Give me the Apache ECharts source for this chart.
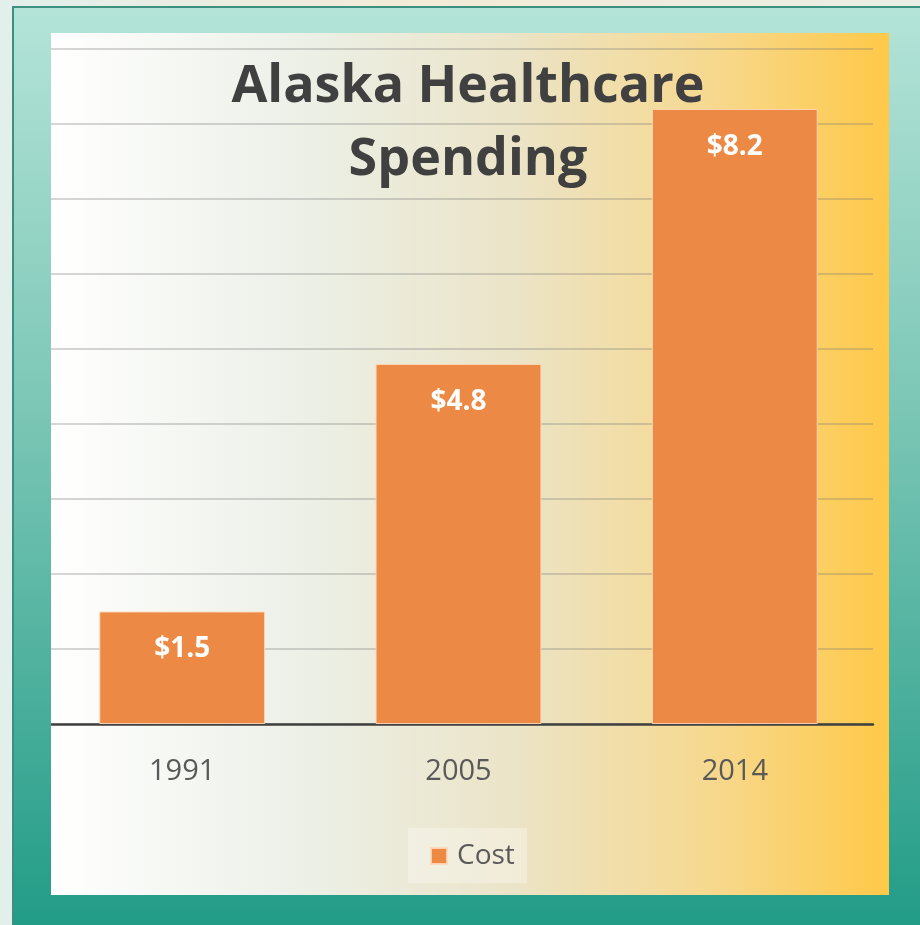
<!DOCTYPE html>
<html>
<head>
<meta charset="utf-8">
<script src="https://cdn.jsdelivr.net/npm/echarts@6/dist/echarts.min.js"></script>
<style>
html,body{margin:0;padding:0;width:920px;height:925px;overflow:hidden;}
#chart{width:920px;height:925px;}
</style>
</head>
<body>
<div id="chart"></div>
<script>
// ---- data ----
const chartTitle = 'Alaska Healthcare\nSpending';
const categories = ['1991', '2005', '2014'];
const seriesName = 'Cost';
const costValues = [1.5, 4.8, 8.2];
const yMax = 9;
const yInterval = 1;

const chart = echarts.init(document.getElementById('chart'), null, {renderer: 'canvas'});
const G = echarts.graphic;

function teal() {
  return new G.LinearGradient(0, 0, 0, 1, [
    {offset: 0, color: '#b4e4d8'},
    {offset: 0.45, color: '#79c5b4'},
    {offset: 1, color: '#209b86'}
  ]);
}
const innerGrad = new G.LinearGradient(0, 0, 1, 0, [
  {offset: 0, color: '#ffffff'},
  {offset: 0.3, color: '#ecf0e7'},
  {offset: 0.55, color: '#ebe4c8'},
  {offset: 0.78, color: '#f6d991'},
  {offset: 1, color: '#ffc948'}
]);
const topGrad = new G.LinearGradient(0, 0, 1, 0, [
  {offset: 0, color: '#e2efea'},
  {offset: 0.45, color: '#f4ebd8'},
  {offset: 1, color: '#eaeee4'}
]);

const option = {
  animation: false,
  backgroundColor: 'transparent',
  graphic: [
    {type: 'rect', z: -100, shape: {x: 0, y: 0, width: 920, height: 925}, style: {fill: '#e2efea'}},
    {type: 'rect', z: -99, shape: {x: 13, y: 0, width: 907, height: 8}, style: {fill: topGrad}},
    {type: 'rect', z: -98, shape: {x: 13, y: 7, width: 920, height: 930}, style: {fill: teal(), stroke: '#3d8f7f', lineWidth: 2}},
    {type: 'rect', z: -97, shape: {x: 51, y: 33, width: 838, height: 862}, style: {fill: innerGrad}},
    {type: 'rect', z: -96, shape: {x: 408, y: 828, width: 119, height: 55}, style: {fill: 'rgba(255,255,255,0.3)'}},
    // cover the overflow left of the inner box (same teal as panel)
    {type: 'rect', z: 100, shape: {x: 14, y: 8, width: 37, height: 930}, style: {fill: teal()}},
    {type: 'line', z: 101, shape: {x1: 13, y1: 7, x2: 13, y2: 925}, style: {stroke: '#3d8f7f', lineWidth: 2}}
  ],
  title: {
    text: chartTitle,
    left: 463,
    top: 46,
    textAlign: 'center',
    textStyle: {
      fontFamily: 'Open Sans',
      fontSize: 52,
      fontWeight: 'bold',
      color: '#404040',
      lineHeight: 73
    }
  },
  legend: {
    data: [seriesName],
    left: 425,
    top: 837,
    icon: 'rect',
    itemWidth: 16,
    itemHeight: 16,
    textStyle: {
      fontFamily: 'Open Sans',
      fontSize: 28,
      color: '#595959',
      padding: [0, 0, 0, 5]
    }
  },
  grid: {left: 44, right: 47, top: 49, bottom: 201, containLabel: false},
  xAxis: {
    type: 'category',
    data: categories,
    axisLine: {show: true, lineStyle: {color: '#404040', width: 2.5}},
    axisTick: {show: false},
    axisLabel: {
      margin: 33,
      fontFamily: 'Open Sans',
      fontSize: 29,
      color: '#595959'
    }
  },
  yAxis: {
    type: 'value',
    min: 0,
    max: yMax,
    interval: yInterval,
    axisLine: {show: false},
    axisTick: {show: false},
    axisLabel: {show: false},
    splitLine: {show: true, lineStyle: {color: 'rgba(120,120,120,0.3)', width: 2}}
  },
  series: [{
    name: seriesName,
    type: 'bar',
    data: costValues,
    barCategoryGap: '40%',
    itemStyle: {color: '#ec8a45', borderColor: 'rgba(255,215,185,0.9)', borderWidth: 1},
    label: {
      show: true,
      position: 'insideTop',
      distance: 24,
      formatter: p => '$' + p.value.toFixed(1),
      fontFamily: 'Open Sans',
      fontSize: 28,
      fontWeight: 'bold',
      color: '#ffffff'
    }
  }]
};
chart.setOption(option);
</script>
</body>
</html>
